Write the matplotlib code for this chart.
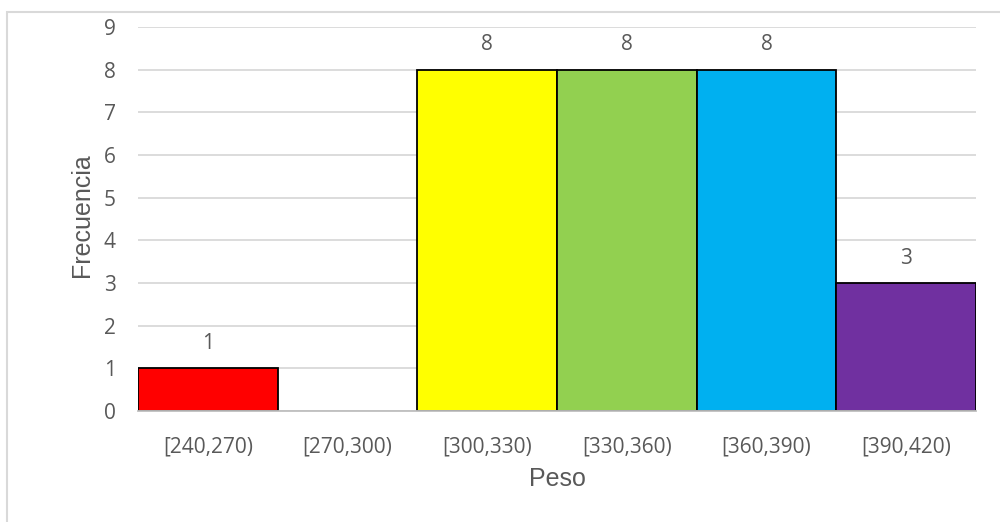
import matplotlib
matplotlib.use("Agg")
from matplotlib import pyplot as plt
from matplotlib.patches import Rectangle

categories = ["[240,270)", "[270,300)", "[300,330)", "[330,360)", "[360,390)", "[390,420)"]
counts = [1, 0, 8, 8, 8, 3]
colors = ["#FF0000", "#FFFFFF", "#FFFF00", "#92D050", "#00B0F0", "#7030A0"]

txt = "#595959"
plt.rcParams['font.family'] = ['Open Sans', 'DejaVu Sans']

fig = plt.figure(figsize=(10, 5.22), dpi=100)
# chart frame (only its top and left edges fall inside the image)
fig.patches.append(Rectangle((0.007, -0.2), 1.2, 1.177, transform=fig.transFigure,
                             fill=False, edgecolor="#D9D9D9", linewidth=1.5))
ax = fig.add_axes([0.138, 0.2126, 0.838, 0.7357])

x = range(len(categories))
edges = ["black" if c > 0 else "none" for c in counts]
ax.bar(x, counts, width=1.0, color=colors, edgecolor=edges, linewidth=1.3, zorder=3)
for xi, c in zip(x, counts):
    if c > 0:
        ax.annotate(str(c), (xi, c), xytext=(0, 18), textcoords="offset points",
                    ha="center", va="center", fontsize=15, color=txt)

ax.set_xlim(-0.5, 5.5)
ax.set_ylim(0, 9)
ax.set_yticks(range(10))
ax.set_xticks(list(x))
ax.set_xticklabels(categories)
ax.yaxis.grid(True, color="#D9D9D9", linewidth=1.3, zorder=0)
ax.tick_params(axis="both", length=0, labelsize=15, labelcolor=txt)
ax.tick_params(axis="x", pad=18)
ax.tick_params(axis="y", pad=16)
for s in ["top", "right", "left"]:
    ax.spines[s].set_visible(False)
ax.spines["bottom"].set_color("#BFBFBF")
ax.spines["bottom"].set_linewidth(1.3)
ax.spines["bottom"].set_zorder(4)

lab_font = ['Liberation Sans', 'DejaVu Sans']
ax.set_ylabel("Frecuencia", fontsize=18, color=txt, family=lab_font, va="center")
ax.set_xlabel("Peso", fontsize=18, color=txt, family=lab_font, va="center")
ax.yaxis.set_label_coords(-0.0668, 0.509)
ax.xaxis.set_label_coords(0.5, -0.177)

fig.savefig("out.png", dpi=100)
